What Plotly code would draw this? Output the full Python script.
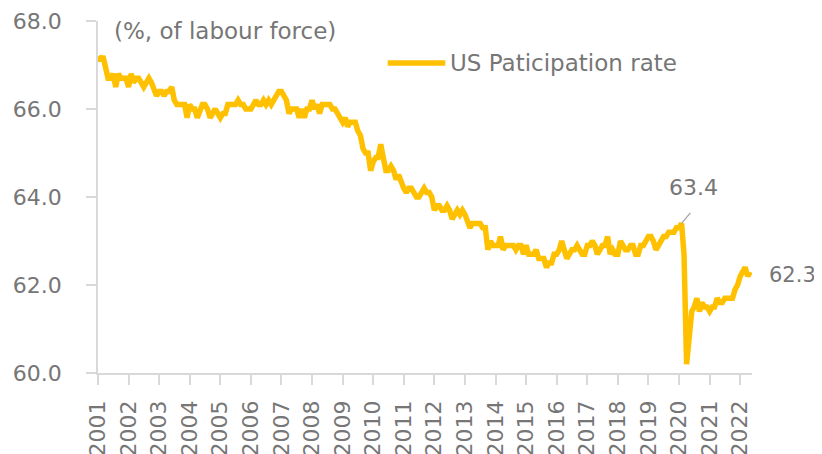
import pandas as pd
import plotly.graph_objects as go

# US labour force participation rate, monthly, Jan 2001 - May 2022 (%)
rate_2001 = [67.2, 67.1, 67.2, 66.9, 66.7, 66.7, 66.8, 66.5, 66.8, 66.7, 66.7, 66.7]
rate_2002 = [66.5, 66.8, 66.6, 66.7, 66.7, 66.6, 66.5, 66.6, 66.7, 66.6, 66.4, 66.3]
rate_2003 = [66.4, 66.4, 66.3, 66.4, 66.4, 66.5, 66.2, 66.1, 66.1, 66.1, 66.1, 65.8]
rate_2004 = [66.1, 66.0, 66.0, 65.8, 66.0, 66.1, 66.1, 66.0, 65.8, 65.9, 66.0, 65.9]
rate_2005 = [65.8, 65.9, 65.9, 66.1, 66.1, 66.1, 66.1, 66.2, 66.1, 66.1, 66.0, 66.0]
rate_2006 = [66.0, 66.1, 66.2, 66.1, 66.1, 66.2, 66.1, 66.2, 66.1, 66.2, 66.3, 66.4]
rate_2007 = [66.4, 66.3, 66.2, 65.9, 66.0, 66.0, 66.0, 65.8, 66.0, 65.8, 66.0, 66.0]
rate_2008 = [66.2, 66.0, 66.1, 65.9, 66.1, 66.1, 66.1, 66.1, 66.0, 66.0, 65.9, 65.8]
rate_2009 = [65.7, 65.8, 65.6, 65.7, 65.7, 65.7, 65.5, 65.4, 65.1, 65.0, 65.0, 64.6]
rate_2010 = [64.8, 64.9, 64.9, 65.2, 64.9, 64.6, 64.6, 64.7, 64.6, 64.4, 64.5, 64.3]
rate_2011 = [64.2, 64.1, 64.2, 64.2, 64.1, 64.0, 64.0, 64.1, 64.2, 64.1, 64.1, 64.0]
rate_2012 = [63.7, 63.8, 63.8, 63.7, 63.7, 63.8, 63.7, 63.5, 63.6, 63.7, 63.6, 63.7]
rate_2013 = [63.6, 63.4, 63.3, 63.4, 63.4, 63.4, 63.4, 63.3, 63.3, 62.8, 63.0, 62.9]
rate_2014 = [62.9, 62.9, 63.1, 62.8, 62.9, 62.9, 62.9, 62.9, 62.8, 62.9, 62.9, 62.7]
rate_2015 = [62.9, 62.7, 62.7, 62.7, 62.8, 62.6, 62.6, 62.6, 62.4, 62.5, 62.5, 62.7]
rate_2016 = [62.7, 62.8, 63.0, 62.8, 62.6, 62.7, 62.8, 62.8, 62.9, 62.8, 62.7, 62.7]
rate_2017 = [62.9, 62.9, 63.0, 62.9, 62.7, 62.8, 62.9, 62.9, 63.1, 62.7, 62.8, 62.7]
rate_2018 = [62.7, 63.0, 62.9, 62.8, 62.8, 62.9, 62.9, 62.7, 62.7, 62.9, 62.9, 63.0]
rate_2019 = [63.1, 63.1, 63.0, 62.8, 62.9, 63.0, 63.1, 63.1, 63.2, 63.2, 63.2, 63.3]
rate_2020 = [63.3, 63.4, 62.7, 60.2, 60.7, 61.4, 61.5, 61.7, 61.4, 61.6, 61.5, 61.5]
rate_2021 = [61.4, 61.5, 61.5, 61.7, 61.6, 61.6, 61.7, 61.7, 61.7, 61.7, 61.9, 62.0]
rate_2022 = [62.2, 62.3, 62.4, 62.2, 62.3]

rate = (rate_2001 + rate_2002 + rate_2003 + rate_2004 + rate_2005 + rate_2006
        + rate_2007 + rate_2008 + rate_2009 + rate_2010 + rate_2011 + rate_2012
        + rate_2013 + rate_2014 + rate_2015 + rate_2016 + rate_2017 + rate_2018
        + rate_2019 + rate_2020 + rate_2021 + rate_2022)
months = pd.date_range("2001-01-01", periods=len(rate), freq="MS")

years = list(range(2001, 2023))
year_ticks = [f"{y}-01-01" for y in years]
year_labels = [str(y) for y in years]

peak_date, peak_value = "2020-02-01", 63.4
last_date, last_value = months[-1], rate[-1]

FONT = "DejaVu Sans"
TEXT = "#767676"
AXIS = "#d9d9d9"
YELLOW = "#FFC000"

fig = go.Figure()
fig.add_trace(go.Scatter(
    x=months, y=rate, mode="lines", name="US Paticipation rate",
    line=dict(color=YELLOW, width=5.5), showlegend=False,
))

# page body adds an 8px margin, so the figure is 8px smaller each way
fig.update_layout(
    width=814, height=446,
    margin=dict(l=90, r=70, t=13, b=81),
    plot_bgcolor="white", paper_bgcolor="white",
    font=dict(family=FONT, color=TEXT),
)
fig.update_xaxes(
    range=["2001-01-01", "2022-05-22"], automargin=False,
    tickvals=year_ticks, ticktext=year_labels, tickangle=-90,
    tickfont=dict(size=22, color=TEXT), ticklabelstandoff=7,
    showline=True, linecolor=AXIS, linewidth=1.5,
    ticks="outside", ticklen=10, tickcolor=AXIS, tickwidth=1.5,
    showgrid=False, zeroline=False,
)
fig.update_yaxes(
    range=[60, 68], automargin=False, tickvals=[60, 62, 64, 66, 68], tickformat=".1f",
    tickfont=dict(size=22, color=TEXT), ticklabelstandoff=20,
    showline=True, linecolor=AXIS, linewidth=1.5,
    ticks="outside", ticklen=10, tickcolor=AXIS, tickwidth=1.5,
    showgrid=False, zeroline=False,
)

# unit note and hand-drawn legend
fig.add_annotation(xref="paper", yref="paper", x=0.021, y=0.972, xanchor="left", yanchor="middle",
                   text="(%, of labour force)", showarrow=False, font=dict(size=23, color=TEXT))
fig.add_shape(type="line", xref="paper", yref="paper", x0=0.443, x1=0.531, y0=0.881, y1=0.881,
              line=dict(color=YELLOW, width=5.5))
fig.add_annotation(xref="paper", yref="paper", x=0.535, y=0.881, xanchor="left", yanchor="middle",
                   text="US Paticipation rate", showarrow=False, font=dict(size=23, color=TEXT))

# value labels, with a short grey leader from the February 2020 peak
fig.add_annotation(x=peak_date, y=peak_value, text="", showarrow=True,
                   arrowhead=0, arrowwidth=1.3, arrowcolor="#a6a6a6", ax=10, ay=-12)
fig.add_annotation(x=peak_date, y=peak_value, text=f"{peak_value:.1f}", showarrow=False,
                   xshift=12, yshift=36, font=dict(size=22, color=TEXT))
fig.add_annotation(x=last_date, y=last_value, text=f"{last_value:.1f}", showarrow=False,
                   xanchor="left", yanchor="middle", xshift=17, yshift=-3,
                   font=dict(size=21, color=TEXT))

fig.write_html("out.html")
